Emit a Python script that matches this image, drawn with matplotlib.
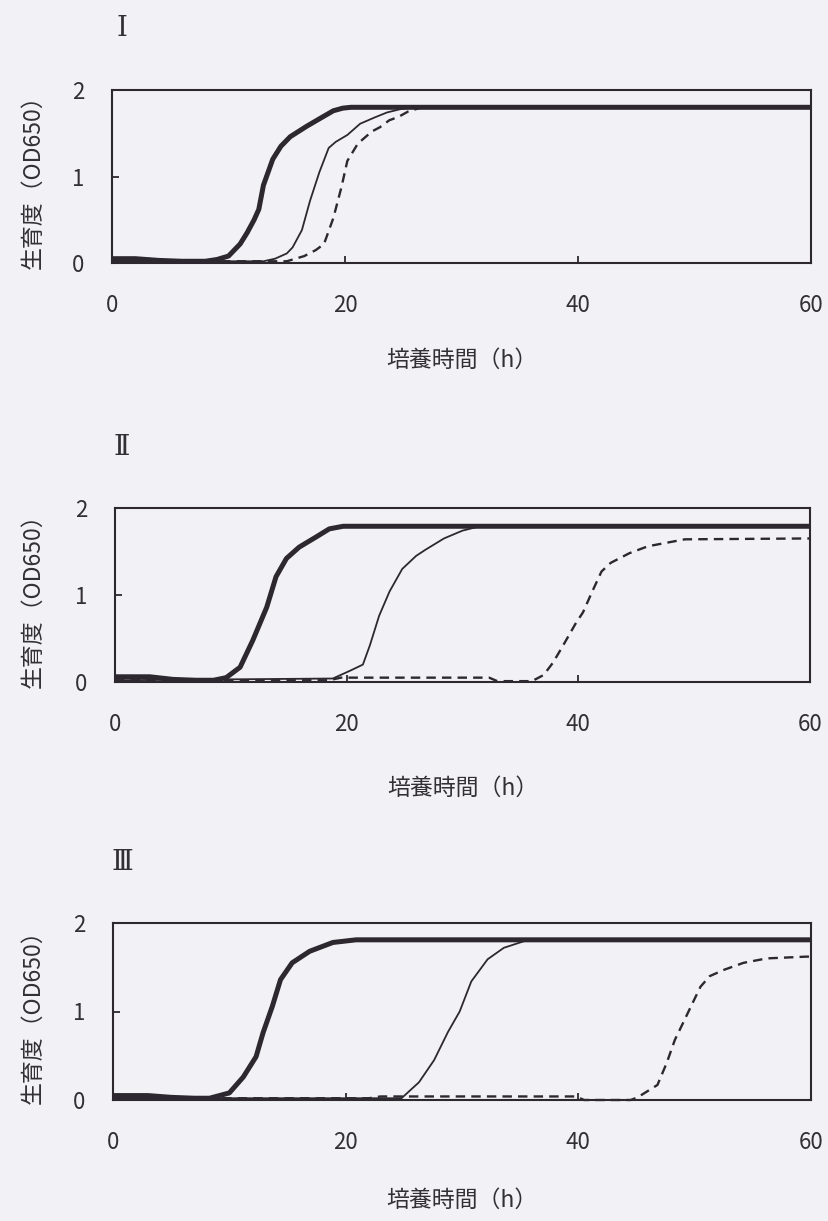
import matplotlib
matplotlib.use('Agg')
import matplotlib.pyplot as plt

plt.rcParams['font.family'] = ['Noto Sans CJK JP', 'DejaVu Sans']

# 培養時間 (h) と 生育度 (OD650) の読み取り値
# 太線: 対照, 細線: 中濃度, 破線: 高濃度
thick_I_t = [0, 2, 4, 6, 8, 9, 10, 11, 11.6, 12.2, 12.6, 13.0, 13.8, 14.5, 15.3, 16.7, 18.1, 19.0, 19.8, 20.5, 60]
thick_I_od = [0.05, 0.05, 0.03, 0.02, 0.02, 0.04, 0.08, 0.22, 0.35, 0.5, 0.62, 0.9, 1.2, 1.35, 1.46, 1.58, 1.69, 1.76, 1.79, 1.8, 1.8]
thin_I_t = [0, 13, 14, 15, 15.5, 16.3, 17.0, 17.8, 18.6, 19.2, 20.2, 21.3, 22.5, 23.6, 24.8, 26.0, 60]
thin_I_od = [0.02, 0.02, 0.05, 0.11, 0.18, 0.38, 0.72, 1.05, 1.33, 1.40, 1.48, 1.61, 1.68, 1.74, 1.78, 1.8, 1.8]
dash_I_t = [0, 15, 16.5, 17.5, 18.2, 19.0, 19.7, 20.2, 21.1, 22.3, 23.0, 23.8, 24.6, 25.4, 26.6, 60]
dash_I_od = [0.02, 0.02, 0.08, 0.15, 0.22, 0.52, 0.88, 1.18, 1.38, 1.52, 1.57, 1.65, 1.69, 1.75, 1.8, 1.8]

thick_II_t = [0, 3, 5, 7, 8.5, 9.6, 10.8, 11.9, 13.1, 13.9, 14.8, 15.9, 17.4, 18.5, 19.7, 60]
thick_II_od = [0.06, 0.06, 0.03, 0.02, 0.02, 0.05, 0.17, 0.48, 0.86, 1.21, 1.42, 1.55, 1.67, 1.76, 1.79, 1.79]
thin_II_t = [0, 18.8, 20.3, 21.4, 22.0, 22.8, 23.7, 24.8, 26.0, 26.8, 28.4, 30.0, 31.5, 60]
thin_II_od = [0.02, 0.04, 0.13, 0.2, 0.42, 0.76, 1.04, 1.3, 1.45, 1.52, 1.65, 1.74, 1.79, 1.79]
dash_II_t = [0, 18.5, 19.5, 32.3, 33, 36.0, 37.0, 37.8, 38.6, 39.8, 40.4, 41.2, 42.0, 42.8, 44.4, 46.0, 49.2, 60]
dash_II_od = [0.02, 0.02, 0.05, 0.05, 0.01, 0.01, 0.08, 0.22, 0.40, 0.68, 0.80, 1.04, 1.27, 1.37, 1.48, 1.56, 1.64, 1.65]

thick_III_t = [0, 3, 5, 7, 8.3, 10.0, 11.2, 12.3, 12.9, 13.7, 14.4, 15.4, 16.9, 18.9, 20.9, 60]
thick_III_od = [0.05, 0.05, 0.03, 0.02, 0.02, 0.08, 0.26, 0.49, 0.76, 1.06, 1.36, 1.55, 1.68, 1.78, 1.81, 1.81]
thin_III_t = [0, 24.8, 26.3, 27.6, 28.8, 29.8, 30.8, 32.2, 33.6, 35.7, 60]
thin_III_od = [0.02, 0.02, 0.2, 0.45, 0.77, 1.0, 1.34, 1.59, 1.72, 1.81, 1.81]
dash_III_t = [0, 22.0, 23.0, 39.8, 40.5, 44.5, 45.1, 46.8, 47.6, 48.3, 49.0, 49.8, 50.5, 51.3, 52.5, 54.2, 56.2, 59.6, 60]
dash_III_od = [0.02, 0.02, 0.04, 0.04, 0.0, 0.0, 0.03, 0.17, 0.42, 0.68, 0.87, 1.09, 1.28, 1.40, 1.47, 1.55, 1.60, 1.62, 1.62]

panel_names = ['Ⅰ', 'Ⅱ', 'Ⅲ']
x_ticks = [0, 20, 40, 60]
y_ticks = [0, 1, 2]
x_label = '培養時間（h）'
y_label = '生育度（OD650）'

panels = [
    (thick_I_t, thick_I_od, thin_I_t, thin_I_od, dash_I_t, dash_I_od),
    (thick_II_t, thick_II_od, thin_II_t, thin_II_od, dash_II_t, dash_II_od),
    (thick_III_t, thick_III_od, thin_III_t, thin_III_od, dash_III_t, dash_III_od),
]

ink = '#2d2830'
text_ink = '#333035'
paper = '#f2f1f5'
W, H = 829, 1221

fig = plt.figure(figsize=(W / 100, H / 100), dpi=100, facecolor=paper)

# 各パネルの枠 (ピクセル: 左, 上, 右, 下) と見出し・軸ラベルの位置
boxes = [(112, 90, 811, 263), (115, 508, 810, 682), (113, 923, 811, 1100)]
xlabel_y = [360, 788, 1200]
name_y = [28, 448, 863]

for i, (box, data) in enumerate(zip(boxes, panels)):
    l, t, r, b = box
    ax = fig.add_axes([l / W, 1 - b / H, (r - l) / W, (b - t) / H])
    ax.set_facecolor(paper)
    tk, yk, tn, yn, td, yd = data
    ax.plot(tk, yk, color=ink, lw=3.6, solid_capstyle='butt', clip_on=False, zorder=3)
    ax.plot(tn, yn, color=ink, lw=1.3, clip_on=False, zorder=4)
    ax.plot(td, yd, color=ink, lw=1.7, dashes=(4, 2.6), clip_on=False, zorder=4)
    ax.set_xlim(0, 60)
    ax.set_ylim(0, 2)
    ax.set_xticks(x_ticks)
    ax.set_yticks(y_ticks)
    ax.tick_params(direction='in', length=5, width=1.3, color=ink,
                   labelsize=16, labelcolor=text_ink)
    ax.tick_params(axis='x', pad=22)
    ax.tick_params(axis='y', pad=20)
    for s in ax.spines.values():
        s.set_color(ink)
        s.set_linewidth(1.5)
    ax.set_ylabel(y_label, fontsize=16.5, color=text_ink)
    ax.yaxis.set_label_coords(-(l - 45) / (r - l), 0.5)
    fig.text((l + r) / 2 / W, 1 - xlabel_y[i] / H, x_label, fontsize=16.5,
             color=text_ink, ha='center', va='center')
    fig.text(122 / W, 1 - name_y[i] / H, panel_names[i], fontsize=20,
             color=text_ink, ha='center', va='center',
             family=['DejaVu Serif', 'Noto Sans CJK JP'])

fig.savefig('out.png', dpi=100, facecolor=paper)
